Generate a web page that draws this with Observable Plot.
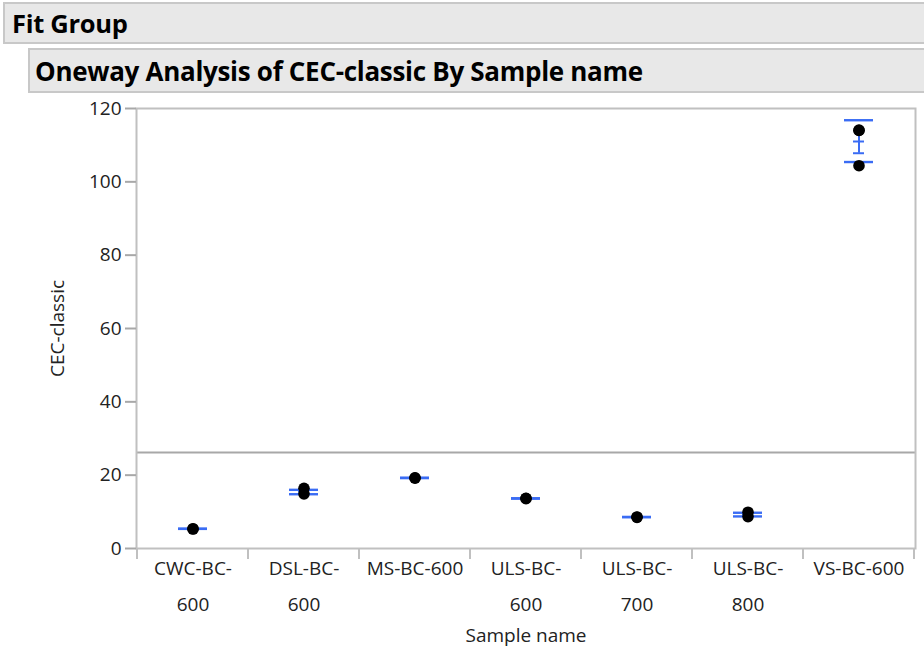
<!DOCTYPE html>
<html>
<head>
<meta charset="utf-8">
<script src="https://cdn.jsdelivr.net/npm/d3@7"></script>
<script src="https://cdn.jsdelivr.net/npm/@observablehq/plot@0.6"></script>
<style>
  html, body { margin: 0; padding: 0; background: #fff; overflow: hidden; }
  body { width: 924px; height: 651px; position: relative; font-family: "Open Sans", sans-serif; }
  .box { position: absolute; background: #e8e8e8; border: 2px solid #c8c8c8; box-sizing: border-box; font-weight: bold; color: #000; display: flex; align-items: center; white-space: nowrap; }
  #fit { left: 3px; top: 2px; width: 940px; height: 42px; font-size: 25.5px; padding-left: 7px; letter-spacing: -0.3px; }
  #oneway { left: 28px; top: 48px; width: 920px; height: 45px; font-size: 26px; padding-left: 5px; letter-spacing: -0.3px; }
  #chart { position: absolute; left: 0; top: 95px; }
</style>
</head>
<body>
<div class="box" id="fit">Fit Group</div>
<div class="box" id="oneway">Oneway Analysis of CEC-classic By Sample name</div>
<div id="chart"></div>
<script>
// ---- data ----
const samples = ["CWC-BC-600", "DSL-BC-600", "MS-BC-600", "ULS-BC-600", "ULS-BC-700", "ULS-BC-800", "VS-BC-600"];
const tickLabels = ["CWC-BC-\n600", "DSL-BC-\n600", "MS-BC-600", "ULS-BC-\n600", "ULS-BC-\n700", "ULS-BC-\n800", "VS-BC-600"];
const pointValues = [
  [5.4, 5.3],
  [16.4, 14.9],
  [19.3, 19.2],
  [13.7, 13.6],
  [8.6, 8.5],
  [9.9, 8.7],
  [114.1, 114.0, 104.4]
];
const sdUpper = [5.4, 16.0, 19.3, 13.7, 8.6, 9.75, 116.8];
const sdLower = [5.35, 14.8, 19.2, 13.6, 8.55, 8.75, 105.4];
const barTop  = [5.4, 15.6, 19.25, 13.65, 8.55, 9.3, 112.6];
const capHigh = [5.4, 15.6, 19.25, 13.65, 8.55, 9.3, 111.0];
const capLow  = [5.4, 15.6, 19.25, 13.65, 8.55, 9.3, 107.8];
const grandMean = 26.2;
const yTicks = [0, 20, 40, 60, 80, 100, 120];

// ---- tables built from the arrays ----
const points = samples.flatMap((s, i) => pointValues[i].map(v => ({sample: s, value: v})));
const sdLines = samples.flatMap((s, i) => [{sample: s, value: sdUpper[i]}, {sample: s, value: sdLower[i]}]);
const errBars = samples.map((s, i) => ({sample: s, top: barTop[i], low: capLow[i]}));
const caps = samples.flatMap((s, i) => [{sample: s, value: capHigh[i]}, {sample: s, value: capLow[i]}]);

const blue = "#3a6cf4";
const font = "Open Sans";
const ink = "#222";

const boundaryTicks = (index, scales, values, dims) => {
  const x = scales.x;
  const bw = x(samples[1]) - x(samples[0]);
  const edges = samples.map(s => x(s)).concat([x(samples[samples.length - 1]) + bw]);
  const y0 = dims.height - dims.marginBottom;
  const g = d3.create("svg:g").attr("stroke", "#c0c0c0").attr("stroke-width", 2);
  for (const e of edges) g.append("line").attr("x1", e).attr("x2", e).attr("y1", y0).attr("y2", y0 + 11);
  return g.node();
};

const chart = Plot.plot({
  width: 924,
  height: 556,
  marginTop: 13,
  marginBottom: 103,
  marginLeft: 136,
  marginRight: 9,
  style: {fontFamily: font, background: "transparent"},
  x: {type: "band", domain: samples, padding: 0, axis: null},
  y: {domain: [0, 120], axis: null},
  marks: [
    Plot.ruleY([grandMean], {stroke: "#a8a8a8", strokeWidth: 2}),
    Plot.frame({stroke: "#c0c0c0", strokeWidth: 2}),
    boundaryTicks,
    Plot.tickY(sdLines, {x: "sample", y: "value", stroke: blue, strokeWidth: 2.4, insetLeft: 41, insetRight: 41}),
    Plot.ruleX(errBars, {x: "sample", y1: "low", y2: "top", stroke: blue, strokeWidth: 2}),
    Plot.tickY(caps, {x: "sample", y: "value", stroke: blue, strokeWidth: 2, insetLeft: 50, insetRight: 50}),
    Plot.dot(points, {x: "sample", y: "value", r: 5.8, fill: "#000", stroke: "none"}),
    Plot.axisY({ticks: yTicks, tickSize: 11, tickPadding: 4, fontSize: 19, label: null, stroke: "#a8a8a8", fill: ink, strokeWidth: 2}),
    Plot.axisX({tickSize: 0, tickPadding: 1, fontSize: 19, lineHeight: 1.9, label: null, fill: ink,
      tickFormat: d => tickLabels[samples.indexOf(d)]}),
    Plot.text(["CEC-classic"], {frameAnchor: "left", textAnchor: "middle", dx: -79, rotate: -90, fontSize: 19, fill: ink}),
    Plot.text(["Sample name"], {frameAnchor: "bottom", dy: 93, fontSize: 19, fill: ink})
  ]
});
document.getElementById("chart").appendChild(chart);
</script>
</body>
</html>
